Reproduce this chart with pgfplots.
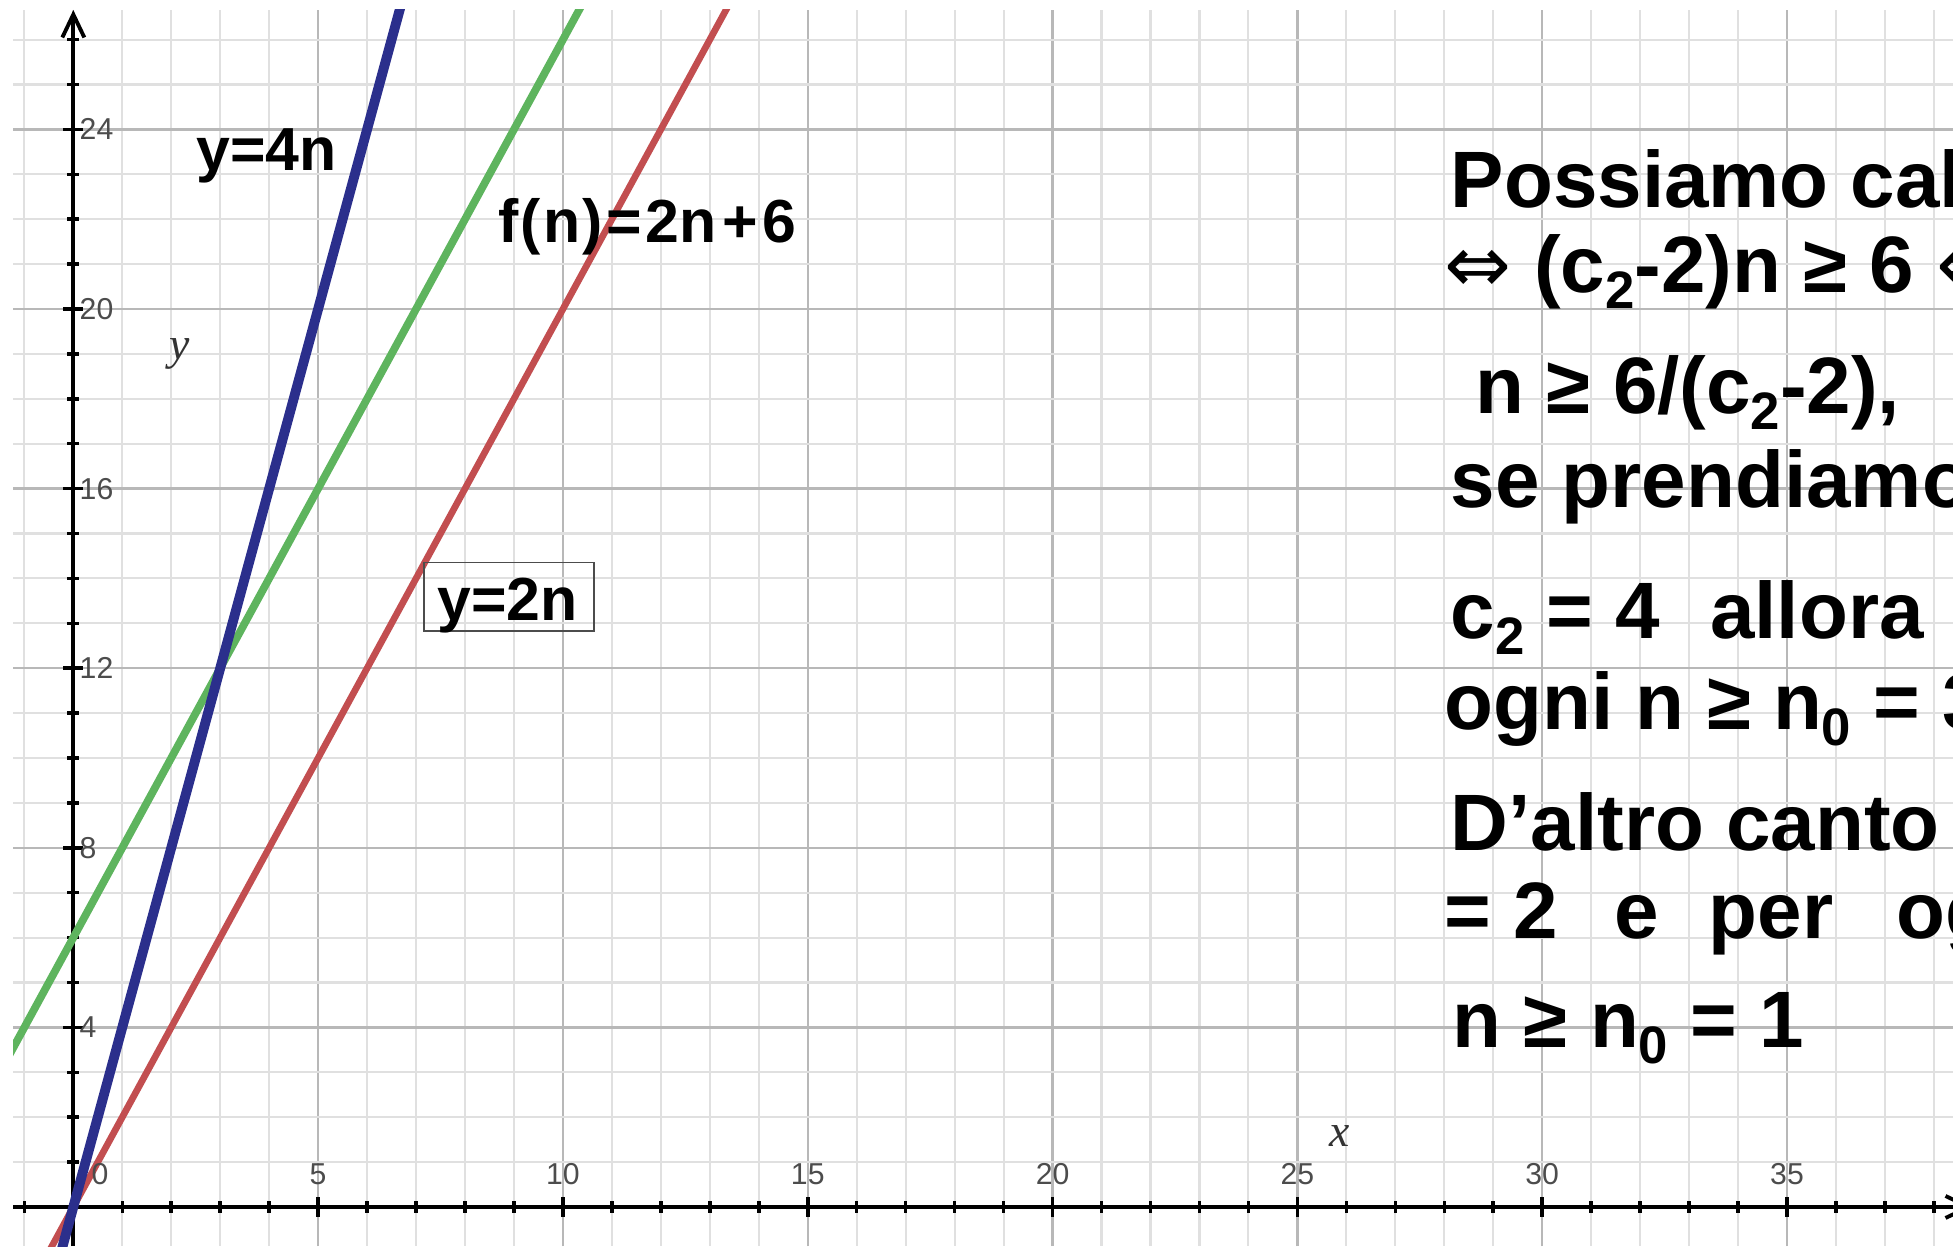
\documentclass[border=0pt]{standalone}
\usepackage{pgfplots}
\pgfplotsset{compat=1.18}
\usepackage{fontspec}
\setmainfont{Liberation Sans}
\newfontfamily\lserif{Liberation Serif}
\newfontfamily\djv{DejaVu Sans}
\usetikzlibrary{arrows.meta}

\definecolor{lineblue}{RGB}{43,47,140}
\definecolor{linegreen}{RGB}{94,180,94}
\definecolor{linered}{RGB}{194,78,80}

% subscript in the large bold text
\newcommand{\sub}[1]{\raisebox{-0.16cm}{\fontsize{15}{15}\selectfont #1}}
\newcommand{\bigtext}{\fontsize{22.76}{26}\selectfont\bfseries}
\newcommand{\labtext}{\fontsize{17.3}{18}\selectfont\bfseries}
\newcommand{\tickfont}{\fontsize{8.6}{9}\selectfont}

\begin{document}
\begin{tikzpicture}
\useasboundingbox (0,0) rectangle (19.53cm,12.46cm);
\clip (0,0) rectangle (19.53cm,12.46cm);
\begin{axis}[
  overlay,
  at={(0.13cm,0cm)}, anchor=south west,
  scale only axis, width=19.40cm, height=12.36cm,
  xmin=-1.232, xmax=38.39, ymin=-0.869, ymax=26.66,
  axis lines=middle,
  axis line style={black, line width=1.1pt},
  x axis line style={-{Straight Barb[length=2.3mm,width=2.2mm]}, shorten >=-0.2cm},
  y axis line style={-{Straight Barb[length=2.3mm,width=2.2mm]}},
  xtick={5,10,...,35}, ytick={4,8,...,24},
  minor xtick={-1,0,...,38}, minor ytick={0,1,...,26},
  grid=both,
  major grid style={black!28, line width=0.7pt},
  minor grid style={black!12, line width=0.6pt},
  tick align=center,
  major tick length=0.2cm, minor tick length=0.12cm,
  tick style={black, line width=1pt},
  ticklabel style={font=\tickfont, text=black!70},
  /pgf/number format/assume math mode=true,
  xticklabel style={anchor=south, yshift=0.2cm},
  yticklabel style={anchor=west, xshift=0.04cm},
]
\addplot[linered, line width=1.9pt] coordinates {(-1,-2) (14,28)};
\addplot[linegreen, line width=2.2pt] coordinates {(-2,2) (11,28)};
\addplot[lineblue, line width=2.8pt] coordinates {(-1,-4) (7,28)};
\end{axis}

\begin{scope}[x=0.01cm, y=0.01cm, every node/.style={inner sep=0pt, anchor=base west}]
  % curve labels
  \node[font=\labtext] at (196,1076) {y=4n};
  \node[font=\labtext] at (498,1004) {f\kern0.6pt(\kern0.6pt n\kern0.6pt)\kern1.2pt=\kern1pt 2n\kern1.5pt+\kern1.5pt 6};
  \draw[black!70, line width=0.5pt] (424,615) rectangle (594,684);
  \node[font=\labtext] at (437,626) {y=2n};
  % axis names and origin label
  \node[font=\lserif\itshape\fontsize{13}{13}\selectfont, anchor=center, text=black!80] at (180,893) {y};
  \node[font=\lserif\itshape\fontsize{13}{13}\selectfont, anchor=center, text=black!80] at (1340,110) {x};
  \node[font=\tickfont, anchor=center, text=black!70] at (100,72) {0};
  % text block
  \node[font=\bigtext] at (1451,1039) {Possiamo calcolare};
  \node[font=\bigtext] at (1445,954) {{\djv\mdseries ⇔} (c\sub{2}-2)n ≥ 6 {\djv\mdseries ⇔}};
  \node[font=\bigtext] at (1476,833) {n ≥ 6/(c\sub{2}-2),};
  \node[font=\bigtext] at (1451,739) {se prendiamo};
  \node[font=\bigtext] at (1451,608) {c\sub{2} = 4\hspace{0.5cm}allora};
  \node[font=\bigtext] at (1445,517) {ogni n ≥ n\sub{0} = 3};
  \node[font=\bigtext] at (1451,396) {D’altro canto};
  \node[font=\bigtext] at (1445,308) {= 2\hspace{0.56cm}e\hspace{0.5cm}per\hspace{0.63cm}ogni};
  \node[font=\bigtext] at (1453,199) {n ≥ n\sub{0} = 1};
\end{scope}
\end{tikzpicture}
\end{document}
